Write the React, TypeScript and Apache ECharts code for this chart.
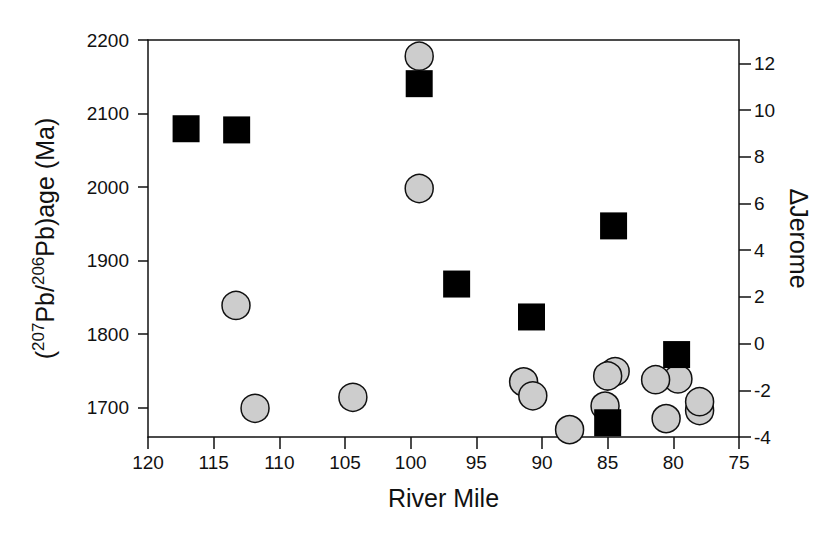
import React, { useEffect, useRef } from "react";
import * as echarts from "echarts";

// River mile of each sample and its (207Pb/206Pb) age (circles, left axis)
const circleMiles = [111.85, 104.4, 113.3, 99.35, 99.35, 91.4, 90.7, 87.9, 84.43, 85.0, 85.2, 79.65, 81.35, 80.55, 78.0, 78.0];
const circleAges = [1699, 1714, 1839, 1998, 2178, 1735, 1716, 1670, 1749, 1743, 1702, 1739, 1738, 1685, 1696, 1708];

// River mile and ΔJerome (squares, right axis)
const squareMiles = [117.1, 113.25, 99.35, 96.5, 90.8, 84.55, 79.75, 85.0];
const squareDelta = [9.2, 9.15, 11.13, 2.55, 1.14, 5.04, -0.47, -3.39];

const xTicks = [75, 80, 85, 90, 95, 100, 105, 110, 115, 120];
const leftTicks = [1700, 1800, 1900, 2000, 2100, 2200];
const rightTicks = [-4, -2, 0, 2, 4, 6, 8, 10, 12];

const FONT = "Liberation Sans, Arial, Helvetica, sans-serif";
const INK = "#111";

export default function App() {
  const ref = useRef<HTMLDivElement>(null);
  useEffect(() => {
    document.body.style.margin = "0";
    if (!ref.current) return;
    const chart = echarts.init(ref.current, undefined, { renderer: "svg" });
    const axisLine = { show: true, onZero: false, lineStyle: { color: INK, width: 1.5 } };
    const plain = (v: number) => String(v);
    chart.setOption({
      animation: false,
      backgroundColor: "#ffffff",
      grid: { left: 148, right: 101, top: 40, bottom: 103 },
      xAxis: [
        {
          type: "value",
          min: 75,
          max: 120,
          inverse: true,
          position: "bottom",
          axisLine,
          axisTick: { show: true, inside: false, length: 12, lineStyle: { color: INK, width: 1.5 }, customValues: xTicks },
          axisLabel: { fontSize: 19, color: INK, fontFamily: FONT, margin: 16, customValues: xTicks, formatter: plain },
          splitLine: { show: false },
          name: "River Mile",
          nameLocation: "middle",
          nameGap: 48,
          nameTextStyle: { fontSize: 25, color: INK, fontFamily: FONT },
        },
        {
          type: "value",
          min: 75,
          max: 120,
          inverse: true,
          position: "top",
          axisLine,
          axisTick: { show: false },
          axisLabel: { show: false },
          splitLine: { show: false },
        },
      ],
      yAxis: [
        {
          type: "value",
          min: 1660,
          max: 2200,
          position: "left",
          axisLine,
          axisTick: { show: true, length: 10, lineStyle: { color: INK, width: 1.5 }, customValues: leftTicks },
          axisLabel: { fontSize: 19, color: INK, fontFamily: FONT, margin: 19, customValues: leftTicks, formatter: plain },
          splitLine: { show: false },
          name: "({sup|207}Pb/{sup|206}Pb)age (Ma)",
          nameLocation: "middle",
          nameRotate: 90,
          nameGap: 88,
          nameTextStyle: {
            fontSize: 25,
            color: INK,
            fontFamily: FONT,
            lineHeight: 30,
            rich: {
              sup: { fontSize: 17, lineHeight: 17, verticalAlign: "top", color: INK, fontFamily: FONT },
            },
          },
        },
        {
          type: "value",
          min: -4,
          max: 13,
          position: "right",
          axisLine,
          axisTick: { show: true, length: 12, lineStyle: { color: INK, width: 1.5 }, customValues: rightTicks },
          axisLabel: { fontSize: 19, color: INK, fontFamily: FONT, margin: 15, customValues: rightTicks, formatter: plain },
          splitLine: { show: false },
          name: "ΔJerome",
          nameLocation: "middle",
          nameRotate: -90,
          nameGap: 43,
          nameTextStyle: { fontSize: 25, color: INK, fontFamily: FONT },
        },
      ],
      series: [
        {
          type: "scatter",
          xAxisIndex: 0,
          yAxisIndex: 0,
          symbol: "circle",
          symbolSize: 28,
          itemStyle: { color: "#cdcdcd", borderColor: "#111", borderWidth: 1.5, opacity: 1 },
          data: circleMiles.map((m, i) => [m, circleAges[i]]),
          z: 2,
        },
        {
          type: "scatter",
          xAxisIndex: 0,
          yAxisIndex: 1,
          symbol: "rect",
          symbolSize: 27,
          itemStyle: { color: "#000", opacity: 1 },
          data: squareMiles.map((m, i) => [m, squareDelta[i]]),
          z: 3,
        },
      ],
    });
    return () => chart.dispose();
  }, []);
  return <div ref={ref} style={{ width: 840, height: 540 }} />;
}
